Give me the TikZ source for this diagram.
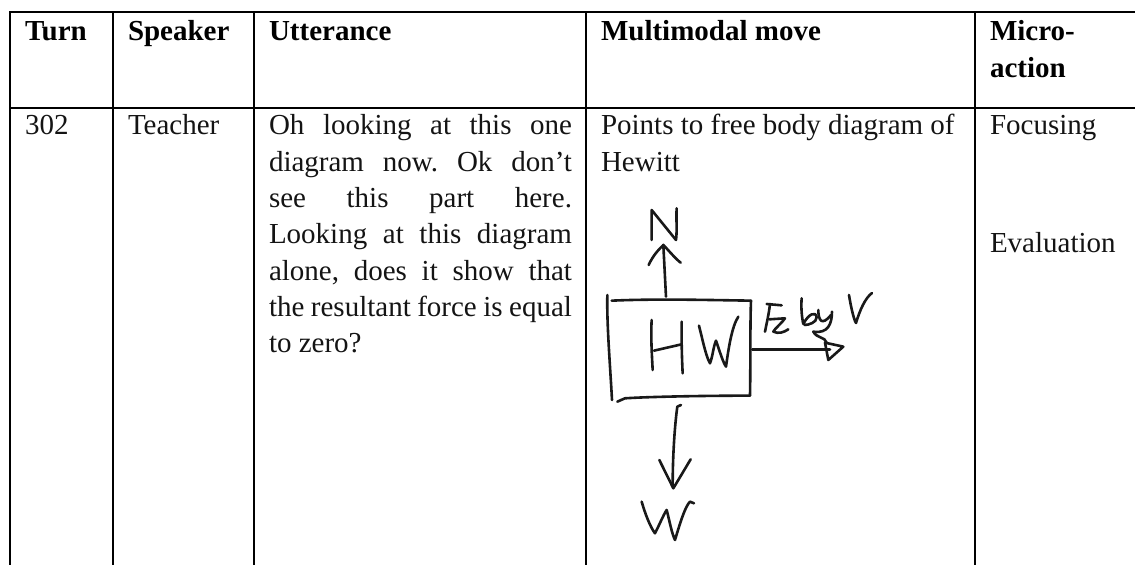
\documentclass[tikz,border=0pt]{standalone}
\usepackage{fontspec}
\setmainfont{Liberation Serif}
\frenchspacing
\tikzset{
  cell/.style={anchor=base west,inner sep=0pt,outer sep=0pt,font=\fontsize{29}{36}\selectfont,text=black!92},
  head/.style={cell,font=\fontsize{29}{36}\selectfont\bfseries,text=black},
  rule/.style={line width=1.7pt,black},
  ink/.style={line width=2.6pt,line cap=round,line join=round,black!90}
}
\newcommand{\jline}[1]{\makebox[303pt][s]{#1}}
\begin{document}
\begin{tikzpicture}[x=1pt,y=-1pt]
\useasboundingbox (0,0) rectangle (1135,565);
\fill[white] (0,0) rectangle (1135,565);
% table rules
\draw[rule] (10,12) -- (1135,12);
\draw[rule] (10,108) -- (1135,108);
\foreach \c in {10,113,254,586,975} \draw[rule] (\c,11) -- (\c,565);
% header
\node[head] (hturn) at (25,40) {Turn};
\node[head] (hspeaker) at (128,40) {Speaker};
\node[head] (hutter) at (269,40) {Utterance};
\node[head] (hmove) at (601,40) {Multimodal move};
\node[head] (hmicroa) at (990,40) {Micro-};
\node[head] (hmicrob) at (990,77) {action};
% body
\node[cell] (turn) at (25,134.5) {302};
\node[cell] (speaker) at (128,134.5) {Teacher};
\node[cell] (u1) at (269,134.5) {\jline{Oh looking at this one}};
\node[cell] (u2) at (269,171) {\jline{diagram now. Ok don’t}};
\node[cell] (u3) at (269,207.3) {\jline{see this part here.}};
\node[cell] (u4) at (269,243.7) {\jline{Looking at this diagram}};
\node[cell] (u5) at (269,280) {\jline{alone, does it show that}};
\node[cell] (u6) at (269,316.3) {\jline{the resultant force is equal}};
\node[cell] (u7) at (269,352.7) {to zero?};
\node[cell] (m1) at (601,134.5) {Points to free body diagram of};
\node[cell] (m2) at (601,171) {Hewitt};
\node[cell] (a1) at (990,134.5) {Focusing};
\node[cell] (a2) at (990,252) {Evaluation};
% hand-drawn free body diagram
\begin{scope}[shift={(600,190)},x=0.3333pt,y=-0.3333pt,ink]
\draw (155,150) -- (155,60) -- (228,150) .. controls (232,120) and (228,85) .. (230,55);
\draw (198,320) -- (190,165);
\draw (146,225) .. controls (160,195) and (175,180) .. (190,165) .. controls (205,180) and (225,205) .. (242,218);
\draw (22,315) .. controls (20,400) and (30,520) .. (36,630);
\draw (35,332) .. controls (170,326) and (320,330) .. (453,332);
\draw (453,332) .. controls (450,420) and (452,520) .. (450,617);
\draw (450,617) .. controls (320,617) and (150,620) .. (75,625) -- (52,635);
\draw (155,390) .. controls (152,440) and (156,500) .. (158,540);
\draw (245,395) .. controls (244,450) and (246,510) .. (248,550);
\draw (162,482) -- (245,463);
\draw (297,407) .. controls (308,450) and (318,500) .. (330,520) .. controls (338,500) and (340,470) .. (348,452) .. controls (358,480) and (368,515) .. (378,530) .. controls (385,480) and (395,410) .. (415,380);
% F_z
\draw (500,342) -- (545,346);
\draw (510,342) .. controls (507,370) and (500,400) .. (495,425);
\draw (508,388) -- (555,385) .. controls (545,400) and (525,415) .. (520,425) .. controls (535,432) and (550,428) .. (565,418);
% b y
\draw (605,325) .. controls (603,350) and (605,380) .. (610,402) .. controls (625,372) and (648,362) .. (650,382) .. controls (650,398) and (625,405) .. (614,405);
\draw (655,360) .. controls (655,390) and (665,410) .. (693,375);
\draw (696,365) .. controls (696,400) and (685,432) .. (640,425) .. controls (650,445) and (675,440) .. (680,458);
% V
\draw (747,315) .. controls (752,345) and (760,385) .. (768,399) .. controls (780,360) and (795,325) .. (816,309);
% right arrow
\draw (457,479) -- (690,479);
\draw (675,458) -- (730,470) -- (685,510) -- cycle;
% down arrow and W
\draw (243,645) -- (232,650) .. controls (225,700) and (218,790) .. (218,890);
\draw (178,810) -- (220,895) -- (272,808);
\draw (125,935) .. controls (135,970) and (150,1010) .. (165,1030) .. controls (178,1005) and (190,975) .. (200,960) .. controls (208,990) and (215,1030) .. (225,1050) .. controls (240,1000) and (255,950) .. (270,935) -- (282,940);
\end{scope}
\end{tikzpicture}
\end{document}
